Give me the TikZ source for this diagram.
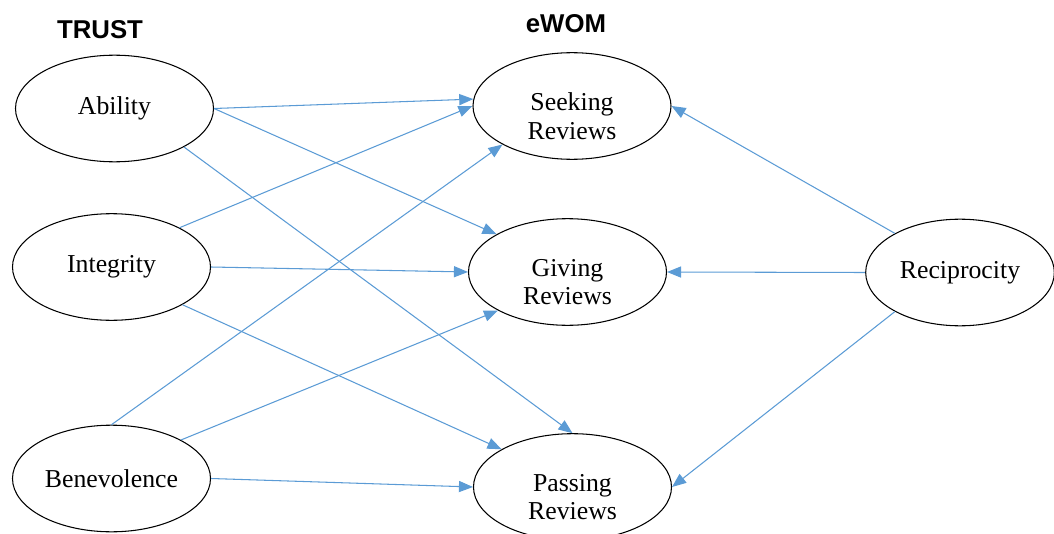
\documentclass[tikz,border=0pt]{standalone}
\usepackage{fontspec}
\setmainfont{Liberation Serif}
\newfontfamily\headfont{Liberation Sans}
\usetikzlibrary{shapes.geometric,arrows.meta}

\tikzset{
  var/.style={ellipse, draw, line width=0.9pt, inner sep=0pt,
    minimum width=169pt, minimum height=91pt, font=\fontsize{22}{24.5}\selectfont},
  lbl/.style={align=center, yshift=-8.5pt, font=\fontsize{22}{24.5}\selectfont},
  head/.style={anchor=base, font=\headfont\bfseries\fontsize{22}{26}\selectfont},
  link/.style={draw=linkblue, line width=0.9pt, -{Triangle[length=12pt,width=9.5pt]}}
}
\definecolor{linkblue}{RGB}{91,155,213}

\begin{document}
\begin{tikzpicture}[x=0.03cm, y=-0.03cm]
  \useasboundingbox (0,0) rectangle (1054,534);

  % Define nodes
  \node[head] (trust) at (100,39) {TRUST};
  \node[head] (ewom)  at (566,33) {eWOM};

  \node[var] (abil) at (114.5,108.5) {Ability};
  \node[var] (integ) at (111.5,267) {Integrity};
  \node[var] (benev) at (111.5,478.5) {Benevolence};

  \node[var, label={[lbl]center:Seeking\\Reviews}] (seek) at (572,106) {};
  \node[var, label={[lbl]center:Giving\\Reviews}] (give) at (567.5,272) {};
  \node[var, label={[lbl]center:Passing\\Reviews}] (pass) at (572.5,487) {};

  \node[var, minimum width=161pt] (recip) at (960,272.5) {Reciprocity};

  % Connect the nodes
  \foreach \src/\dst in {abil.east/seek.176, abil.east/give.152, abil.-29/pass.north,
                         integ.30/seek.west, integ.east/give.west, integ.-28/pass.152,
                         benev.north/seek.209, benev.29/give.209, benev.east/pass.west,
                         recip.149/seek.east, recip.west/give.east, recip.211/pass.east}
    \draw[link] (\src) -- (\dst);
\end{tikzpicture}
\end{document}
